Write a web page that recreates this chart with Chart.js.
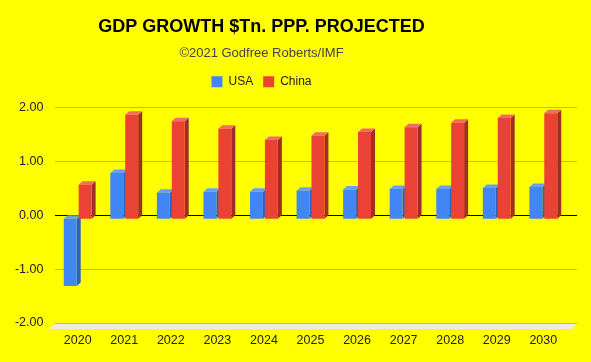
<!DOCTYPE html>
<html>
<head>
<meta charset="utf-8">
<title>GDP Growth</title>
<script src="https://cdn.jsdelivr.net/npm/chart.js@4/dist/chart.umd.min.js"></script>
<style>
  html, body { margin: 0; padding: 0; background: #ffff00; }
  canvas { display: block; }
</style>
</head>
<body>
<canvas id="chart" width="591" height="362"></canvas>
<script>
const years = ["2020", "2021", "2022", "2023", "2024", "2025", "2026", "2027", "2028", "2029", "2030"];
const usa = [-1.25, 0.85, 0.48, 0.50, 0.50, 0.52, 0.54, 0.55, 0.55, 0.57, 0.59];
const china = [0.63, 1.93, 1.81, 1.67, 1.46, 1.54, 1.61, 1.70, 1.78, 1.87, 1.96];
const yTicks = [-2, -1, 0, 1, 2];

const FONT = "'Liberation Sans', Arial, sans-serif";
const DX = 4, DY = 3.5;   // fake 3d depth

// back wall grid, floor and the side/top faces of every bar
const depthPlugin = {
    id: "depth",
    beforeDatasetsDraw(chart) {
        const { ctx, chartArea } = chart;
        const y = chart.scales.y;
        ctx.save();

        const fy = y.getPixelForValue(yTicks[0]);
        ctx.fillStyle = "#ebebeb";
        ctx.beginPath();
        ctx.moveTo(chartArea.left + 0.5, fy - DY + 1);
        ctx.lineTo(chartArea.right + 10.5, fy - DY + 1);
        ctx.lineTo(chartArea.right + 5, fy + 2.5);
        ctx.lineTo(chartArea.left - 5, fy + 2.5);
        ctx.closePath();
        ctx.fill();

        yTicks.forEach(v => {
            const py = Math.round(y.getPixelForValue(v) - DY) + 0.5;
            ctx.strokeStyle = v === 0 ? "#000000" : "#c8c400";
            ctx.lineWidth = 1;
            ctx.beginPath();
            ctx.moveTo(chartArea.left + 0.5, py);
            ctx.lineTo(chartArea.right + 10.5, py);
            ctx.stroke();
        });

        chart.data.datasets.forEach((ds, i) => {
            chart.getDatasetMeta(i).data.forEach(bar => {
                const p = bar.getProps(["x", "y", "base", "width"], true);
                const l = p.x - p.width / 2, r = p.x + p.width / 2;
                const t = Math.min(p.y, p.base), b = Math.max(p.y, p.base);
                ctx.fillStyle = ds.sideColor;
                ctx.beginPath();
                ctx.moveTo(r, t);
                ctx.lineTo(r + DX, t - DY);
                ctx.lineTo(r + DX, b - DY);
                ctx.lineTo(r, b);
                ctx.closePath();
                ctx.fill();
                ctx.fillStyle = ds.topColor;
                ctx.beginPath();
                ctx.moveTo(l, t);
                ctx.lineTo(l + DX, t - DY);
                ctx.lineTo(r + DX, t - DY);
                ctx.lineTo(r, t);
                ctx.closePath();
                ctx.fill();
            });
        });
        ctx.restore();
    }
};

// extra room under the legend, and title block centred like the original
const layoutPlugin = {
    id: "layoutFix",
    beforeLayout(chart) {
        const lg = chart.legend;
        if (lg && !lg._padded) {
            const fit = lg.fit;
            lg.fit = function () { fit.call(this); this.height += 13.3; };
            lg._padded = true;
        }
    },
    afterLayout(chart) {
        chart.boxes.forEach(b => {
            if (b.axis === undefined && b.position === "top") {
                const dx = 261.5 - (b.left + b.right) / 2;
                b.left += dx;
                b.right += dx;
            }
        });
    }
};

new Chart(document.getElementById("chart"), {
    type: "bar",
    data: {
        labels: years,
        datasets: [
            { label: "USA", data: usa, backgroundColor: "#4285f4", topColor: "#6a9ef7", sideColor: "#2f62bd", borderWidth: 0 },
            { label: "China", data: china, backgroundColor: "#ea4335", topColor: "#ef6d62", sideColor: "#a32d25", borderWidth: 0 }
        ]
    },
    options: {
        responsive: false,
        animation: false,
        devicePixelRatio: 1,
        categoryPercentage: 0.64,
        barPercentage: 0.87,
        layout: { padding: { top: 0, left: 0, right: 24.4, bottom: 0 } },
        plugins: {
            title: {
                display: true,
                text: "GDP GROWTH $Tn. PPP. PROJECTED",
                color: "#000000",
                font: { family: FONT, size: 18, weight: "bold" },
                padding: { top: 16, bottom: 0 }
            },
            subtitle: {
                display: true,
                text: "©2021 Godfree Roberts/IMF",
                color: "#444444",
                font: { family: FONT, size: 13 },
                padding: { top: 8.5, bottom: 4 }
            },
            legend: {
                position: "top",
                labels: {
                    color: "#222222",
                    font: { family: FONT, size: 12 },
                    boxWidth: 11,
                    boxHeight: 11,
                    padding: 10
                }
            },
            tooltip: { enabled: false }
        },
        scales: {
            x: {
                grid: { display: false, drawTicks: false },
                border: { display: false },
                ticks: { color: "#222222", font: { family: FONT, size: 12.5 }, padding: 7, maxRotation: 0 },
                afterFit(scale) { scale.height = 35.6; }
            },
            y: {
                min: -2,
                max: 2,
                grid: { display: false, drawTicks: false },
                border: { display: false },
                ticks: {
                    stepSize: 1,
                    color: "#222222",
                    font: { family: FONT, size: 12.5 },
                    padding: 11,
                    labelOffset: -DY,
                    callback: v => v.toFixed(2)
                },
                afterFit(scale) { scale.width = 54.4; }
            }
        }
    },
    plugins: [depthPlugin, layoutPlugin]
});
</script>
</body>
</html>
